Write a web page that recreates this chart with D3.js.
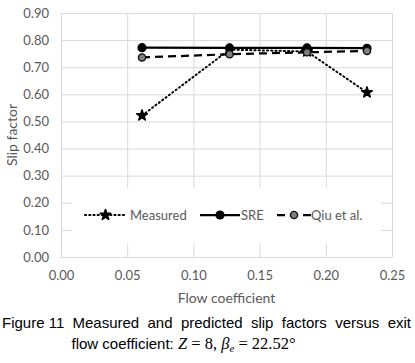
<!DOCTYPE html>
<html>
<head>
<meta charset="utf-8">
<script src="https://cdn.jsdelivr.net/npm/d3@7"></script>
<style>
  body { margin: 0; background: #fff; }
  svg { display: block; }
</style>
</head>
<body>
<div id="chart"></div>
<script>
// data
const FLOW = [0.0612, 0.1273, 0.1858, 0.2311];
const MEASURED = [0.522, 0.765, 0.758, 0.607];
const SRE = [0.772, 0.771, 0.771, 0.770];
const QIU = [0.736, 0.748, 0.755, 0.760];
const SERIES_NAMES = ["Measured", "SRE", "Qiu et al."];
const X_TICKS = [0, 0.05, 0.10, 0.15, 0.20, 0.25];
const Y_TICKS = [0, 0.1, 0.2, 0.3, 0.4, 0.5, 0.6, 0.7, 0.8, 0.9];

const W = 415, H = 363;
const FONT = "Lato, 'Open Sans', sans-serif";
const GRAY = "#595959";
const GRID = "#d9d9d9";

const svg = d3.select("#chart").append("svg")
  .attr("width", W).attr("height", H);

const x = d3.scaleLinear().domain([0, 0.25]).range([61, 392]);
const y = d3.scaleLinear().domain([0, 0.9]).range([257, 13]);

// grid + y axis
const yAxis = svg.append("g")
  .attr("transform", `translate(${x(0)},0)`)
  .call(d3.axisLeft(y).tickValues(Y_TICKS).tickFormat(d3.format(".2f"))
    .tickSize(-(x(0.25) - x(0))).tickPadding(12));
yAxis.select(".domain").remove();
yAxis.selectAll("line").attr("stroke", GRID).attr("stroke-width", 1);
yAxis.selectAll("text").attr("fill", GRAY).style("font-family", FONT).style("font-size", "13px");

// x axis
const xAxis = svg.append("g")
  .attr("transform", `translate(0,${y(0)})`)
  .call(d3.axisBottom(x).tickValues(X_TICKS).tickFormat(d3.format(".2f"))
    .tickSize(-(y(0) - y(0.9))).tickPadding(14));
xAxis.select(".domain").remove();
xAxis.selectAll("line").attr("stroke", GRID).attr("stroke-width", 1);
xAxis.selectAll("text").attr("fill", GRAY).style("font-family", FONT).style("font-size", "13px");

// axis titles
svg.append("text")
  .attr("transform", `translate(17,${(y(0) + y(0.9)) / 2}) rotate(-90)`)
  .attr("text-anchor", "middle")
  .attr("fill", GRAY)
  .style("font-family", FONT).style("font-size", "14px")
  .text("Slip factor");

svg.append("text")
  .attr("x", (x(0) + x(0.25)) / 2)
  .attr("y", 303)
  .attr("text-anchor", "middle")
  .attr("fill", GRAY)
  .style("font-family", FONT).style("font-size", "14px")
  .text("Flow coefficient");

// legend box (covers grid)
svg.append("rect")
  .attr("x", 72).attr("y", 188).attr("width", 309).attr("height", 55)
  .attr("fill", "#fff");

const styles = [
  { dash: "1.2 3", width: 2, marker: "star" },
  { dash: null, width: 2.25, marker: "circle" },
  { dash: "8 5", width: 2.25, marker: "circle-gray" }
];
const seriesValues = [MEASURED, SRE, QIU];

const line = d3.line().x(d => x(d[0])).y(d => y(d[1]));

function drawMarker(g, kind, cx, cy) {
  if (kind === "star") {
    g.append("path")
      .attr("d", d3.symbol().type(d3.symbolStar).size(34)())
      .attr("transform", `translate(${cx},${cy})`)
      .attr("fill", "#000").attr("stroke", "#000").attr("stroke-width", 1.6)
      .attr("stroke-linejoin", "round");
  } else if (kind === "circle") {
    g.append("circle").attr("cx", cx).attr("cy", cy).attr("r", 4.6).attr("fill", "#000");
  } else {
    g.append("circle").attr("cx", cx).attr("cy", cy).attr("r", 3.6)
      .attr("fill", "#7f7f7f").attr("stroke", "#111").attr("stroke-width", 1.4);
  }
}

seriesValues.forEach((vals, i) => {
  const pts = FLOW.map((f, j) => [f, vals[j]]);
  const g = svg.append("g");
  g.append("path")
    .attr("d", line(pts))
    .attr("fill", "none")
    .attr("stroke", "#000")
    .attr("stroke-width", styles[i].width)
    .attr("stroke-dasharray", styles[i].dash)
    .attr("stroke-linecap", i === 0 ? "round" : "butt");
  pts.forEach(p => drawMarker(g, styles[i].marker, x(p[0]), y(p[1])));
});

// legend
const legendItems = [
  { x0: 85, x1: 126, tx: 130, dash: "1.2 3" },
  { x0: 200, x1: 240, tx: 241, dash: null },
  { x0: 277, x1: 311, tx: 311, dash: "8 18" }
];
const LY = 215;
SERIES_NAMES.forEach((name, i) => {
  const it = legendItems[i];
  const g = svg.append("g");
  g.append("line")
    .attr("x1", it.x0).attr("x2", it.x1).attr("y1", LY).attr("y2", LY)
    .attr("stroke", "#000").attr("stroke-width", styles[i].width)
    .attr("stroke-dasharray", it.dash)
    .attr("stroke-linecap", i === 0 ? "round" : "butt");
  drawMarker(g, styles[i].marker, (it.x0 + it.x1) / 2, LY);
  g.append("text")
    .attr("x", it.tx).attr("y", LY + 4.5)
    .attr("fill", GRAY)
    .style("font-family", FONT).style("font-size", "13px")
    .text(name);
});

// caption
const CAP_FONT = "'Liberation Sans', Arial, sans-serif";
const cap1 = svg.append("text")
  .attr("y", 328).attr("fill", "#000")
  .style("font-family", CAP_FONT).style("font-size", "15px");
cap1.append("tspan").attr("x", 2).text("Figure 11");
const words = ["Measured", "and", "predicted", "slip", "factors", "versus", "exit"];
const spans = words.map(w => cap1.append("tspan").text(w));
const widths = spans.map(s => s.node().getComputedTextLength());
const left = 72.5, right = 411;
const gap = (right - left - d3.sum(widths)) / (words.length - 1);
let cx = left;
spans.forEach((s, i) => { s.attr("x", cx); cx += widths[i] + gap; });

const MATH = "'Liberation Serif', 'DejaVu Serif', serif";
const cap2 = svg.append("text")
  .attr("x", 71.5).attr("y", 349).attr("fill", "#000")
  .style("font-family", CAP_FONT).style("font-size", "15px");
cap2.append("tspan").text("flow coefficient: ");
cap2.append("tspan").style("font-family", MATH).style("font-style", "italic").style("font-size", "16.5px").text("Z");
cap2.append("tspan").style("font-family", MATH).style("font-size", "16.5px").text(" = 8, ");
cap2.append("tspan").style("font-family", MATH).style("font-style", "italic").style("font-size", "16.5px").text("β");
cap2.append("tspan").attr("dy", 3).style("font-family", MATH).style("font-style", "italic").style("font-size", "11px").text("e");
cap2.append("tspan").attr("dy", -3).style("font-family", MATH).style("font-size", "16.5px").text(" = 22.52°");
</script>
</body>
</html>
